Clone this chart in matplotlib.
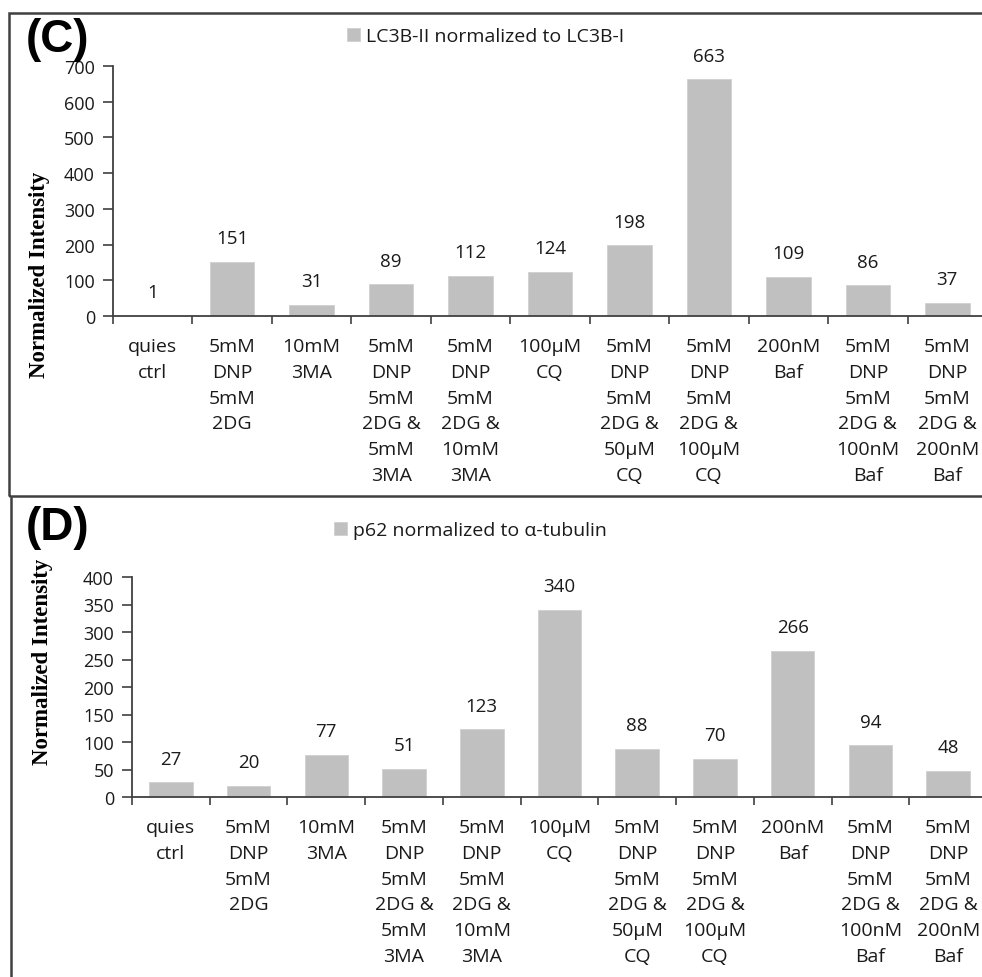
import matplotlib.pyplot as plt
from matplotlib.patches import Rectangle
from matplotlib.lines import Line2D

plt.rcParams['font.family'] = ['Open Sans', 'DejaVu Sans']

# categories (shared by both panels)
categories = [
    'quies\nctrl',
    '5mM\nDNP\n5mM\n2DG',
    '10mM\n3MA',
    '5mM\nDNP\n5mM\n2DG &\n5mM\n3MA',
    '5mM\nDNP\n5mM\n2DG &\n10mM\n3MA',
    '100µM\nCQ',
    '5mM\nDNP\n5mM\n2DG &\n50µM\nCQ',
    '5mM\nDNP\n5mM\n2DG &\n100µM\nCQ',
    '200nM\nBaf',
    '5mM\nDNP\n5mM\n2DG &\n100nM\nBaf',
    '5mM\nDNP\n5mM\n2DG &\n200nM\nBaf',
]

# panel C values
lc3_values = [1, 151, 31, 89, 112, 124, 198, 663, 109, 86, 37]
lc3_ticks = [0, 100, 200, 300, 400, 500, 600, 700]

# panel D values
p62_values = [27, 20, 77, 51, 123, 340, 88, 70, 266, 94, 48]
p62_ticks = [0, 50, 100, 150, 200, 250, 300, 350, 400]

W, H = 982, 978
fig = plt.figure(figsize=(W / 100, H / 100), dpi=100)

bar_col = '#c0c0c0'
ax_col = '#404040'
txt_col = '#1a1a1a'


def px(x0, y0, x1, y1):
    # pixel box -> figure fraction [left, bottom, width, height]
    return [x0 / W, 1 - y1 / H, (x1 - x0) / W, (y1 - y0) / H]


def panel(rect, values, ticks, legend_text, leg_xy, letter, letter_xy, ylab_xy):
    ax = fig.add_axes(px(*rect))
    x = list(range(len(values)))
    bars = ax.bar(x, values, width=0.56, color=bar_col, edgecolor='#d0d0d0',
                  linewidth=0.6, label=legend_text, zorder=2)
    for xi, v in zip(x, values):
        ax.annotate(str(v), (xi, v), xytext=(0, 17), textcoords='offset points',
                    ha='center', va='center', fontsize=13.5, color=txt_col)
    ax.set_xlim(-0.5, len(values) - 0.5)
    ax.set_ylim(ticks[0], ticks[-1])
    ax.set_yticks(ticks)
    ax.set_xticks(x)
    ax.set_xticklabels(categories, fontsize=14, color=txt_col, linespacing=1.56,
                       va='top')
    ax.tick_params(axis='x', length=0, pad=15)
    ax.set_xticks([i - 0.5 for i in x], minor=True)
    ax.tick_params(axis='x', which='minor', length=6, width=1.2, color=ax_col)
    ax.tick_params(axis='y', length=7, width=1.2, color=ax_col, pad=6,
                   labelsize=13, labelcolor=txt_col)
    for s in ('top', 'right'):
        ax.spines[s].set_visible(False)
    for s in ('left', 'bottom'):
        ax.spines[s].set_color(ax_col)
        ax.spines[s].set_linewidth(1.3)
    fig.legend(handles=[bars], loc='center left', frameon=False,
               bbox_to_anchor=(leg_xy[0] / W, 1 - leg_xy[1] / H),
               bbox_transform=fig.transFigure, fontsize=14, handlelength=0.65,
               handleheight=0.65, handletextpad=0.35, borderpad=0,
               borderaxespad=0, labelcolor=txt_col)
    fig.text(letter_xy[0] / W, 1 - letter_xy[1] / H, letter, fontsize=33,
             fontweight='bold', family='Liberation Sans', ha='left', va='top')
    fig.text(ylab_xy[0] / W, 1 - ylab_xy[1] / H, 'Normalized Intensity',
             rotation=90, fontsize=16.5, fontweight='bold',
             family='Liberation Serif', ha='center', va='center')
    return ax


panel((113, 67, 987, 317), lc3_values, lc3_ticks,
      'LC3B-II normalized to LC3B-I', (347, 37), '(C)', (26, 18), (40, 275))
panel((132, 578, 987, 798), p62_values, p62_ticks,
      'p62 normalized to α-tubulin', (334, 531), '(D)', (26, 506), (43, 662))

# panel frames
fig.add_artist(Rectangle((9 / W, 1 - 497 / H), 1.2, (497 - 14) / H,
                         transform=fig.transFigure, fill=False,
                         edgecolor=ax_col, linewidth=1.8))
fig.add_artist(Line2D([11 / W, 11 / W], [1 - 499 / H, -0.05],
                      transform=fig.transFigure, color=ax_col, linewidth=1.8))

fig.savefig('out.png', dpi=100)
